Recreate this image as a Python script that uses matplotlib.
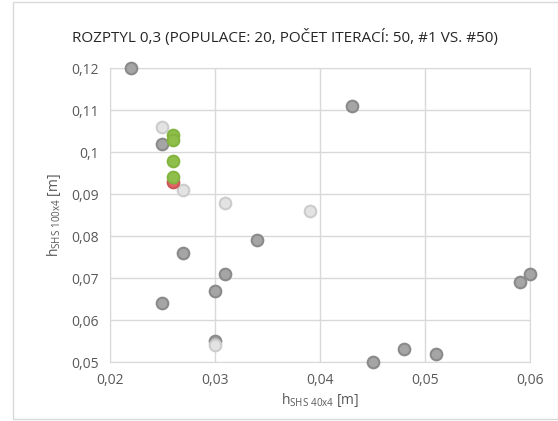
import matplotlib.pyplot as plt
from matplotlib.patches import Rectangle

plt.rcParams['font.family'] = ['Open Sans', 'DejaVu Sans']

# populace #1
x_first = [0.022, 0.025, 0.043, 0.034, 0.027, 0.031, 0.030, 0.025, 0.030, 0.045, 0.048, 0.051, 0.059, 0.060]
y_first = [0.120, 0.102, 0.111, 0.079, 0.076, 0.071, 0.067, 0.064, 0.055, 0.050, 0.053, 0.052, 0.069, 0.071]

# populace #50
x_last = [0.025, 0.027, 0.031, 0.039, 0.030]
y_last = [0.106, 0.091, 0.088, 0.086, 0.054]

x_red = [0.026]
y_red = [0.093]

x_green = [0.026, 0.026, 0.026, 0.026]
y_green = [0.104, 0.103, 0.098, 0.094]

fig = plt.figure(figsize=(5.58, 4.21), dpi=100)
ax = fig.add_axes([0.197, 0.140, 0.753, 0.698])

ax.scatter(x_first, y_first, s=70, c='#a5a5a5', edgecolors='#8a8a8a', linewidths=1.5, zorder=3, clip_on=False)
ax.scatter(x_last, y_last, s=70, c='#e3e3e3', edgecolors='#cccccc', linewidths=1.5, zorder=4, clip_on=False)
ax.scatter(x_red, y_red, s=70, c='#e06666', edgecolors='#cc5555', linewidths=1.5, zorder=5, clip_on=False)
ax.scatter(x_green, y_green, s=70, c='#8fbf4a', edgecolors='#84b440', linewidths=1.5, zorder=6, clip_on=False)

ax.set_xlim(0.02, 0.06)
ax.set_ylim(0.05, 0.12)
ax.set_xticks([0.02, 0.03, 0.04, 0.05, 0.06])
ax.set_xticklabels(['0,02', '0,03', '0,04', '0,05', '0,06'])
ax.set_yticks([0.05, 0.06, 0.07, 0.08, 0.09, 0.10, 0.11, 0.12])
ax.set_yticklabels(['0,05', '0,06', '0,07', '0,08', '0,09', '0,1', '0,11', '0,12'])
ax.tick_params(length=0, labelsize=10, colors='#595959', pad=8)
ax.grid(True, color='#d9d9d9', linewidth=1)
ax.set_axisbelow(True)
for sp in ax.spines.values():
    sp.set_color('#d9d9d9')

ax.set_xlabel(r'h$_{\mathregular{SHS\ 40x4}}$ [m]', fontsize=10, color='#595959', labelpad=2)
ax.set_ylabel(r'h$_{\mathregular{SHS\ 100x4}}$ [m]', fontsize=10, color='#595959', labelpad=6)

fig.text(0.51, 0.912, 'ROZPTYL 0,3 (POPULACE: 20, POČET ITERACÍ: 50, #1 VS. #50)',
         ha='center', va='center', fontsize=11, color='#262626')

fig.patches.append(Rectangle((13 / 558, 2 / 421), 545 / 558, 417 / 421, transform=fig.transFigure,
                             fill=False, edgecolor='#d9d9d9', linewidth=1))

plt.savefig('out.png', dpi=100)
